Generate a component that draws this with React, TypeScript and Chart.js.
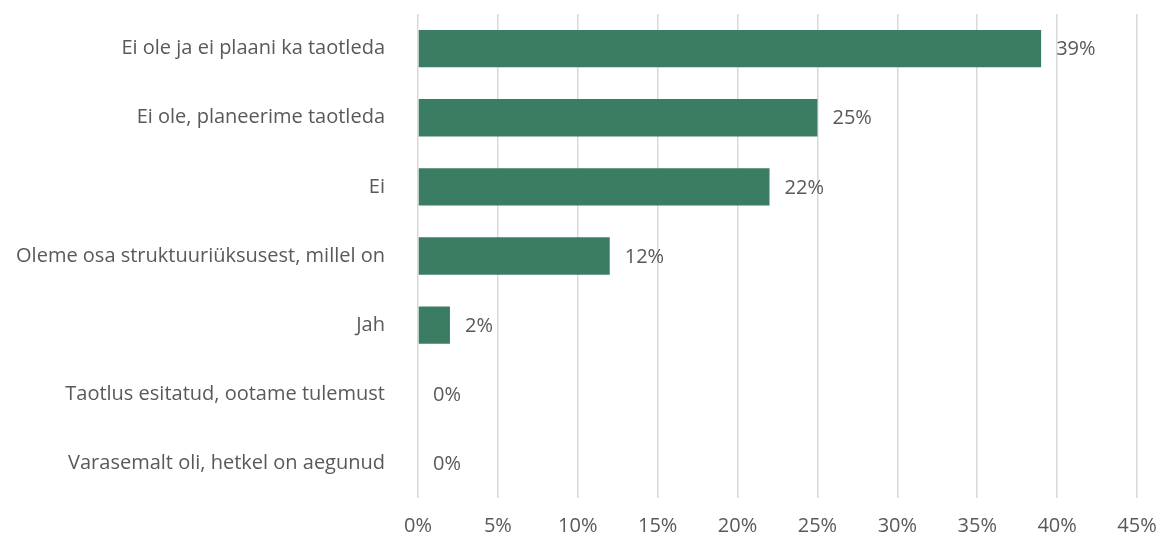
import React, { useEffect, useRef } from "react";
import { Chart, registerables } from "chart.js";

Chart.register(...registerables);

const categories = [
  "Ei ole ja ei plaani ka taotleda",
  "Ei ole, planeerime taotleda",
  "Ei",
  "Oleme osa struktuuriüksusest, millel on",
  "Jah",
  "Taotlus esitatud, ootame tulemust",
  "Varasemalt oli, hetkel on aegunud",
];
const values = [39, 25, 22, 12, 2, 0, 0];
const tickStep = 5;
const axisMax = 45;

const FONT = "'Open Sans', sans-serif";
const TEXT = "#595959";
const SIZE = 20;

const labelPlugin = {
  id: "barLabels",
  afterDatasetsDraw(chart: any) {
    const ctx = chart.ctx;
    const meta = chart.getDatasetMeta(0);
    ctx.save();
    ctx.font = `${SIZE}px ${FONT}`;
    ctx.fillStyle = TEXT;
    ctx.textAlign = "left";
    ctx.textBaseline = "middle";
    meta.data.forEach((bar: any, i: number) => {
      ctx.fillText(values[i] + "%", bar.x + 15, bar.y + 1);
    });
    ctx.restore();
  },
};

export default function App() {
  const ref = useRef<HTMLCanvasElement>(null);
  useEffect(() => {
    document.body.style.margin = "0";
    const chart = new Chart(ref.current!, {
      type: "bar",
      data: {
        labels: categories,
        datasets: [
          {
            data: values,
            backgroundColor: "#3b7d63",
            barPercentage: 0.54,
            categoryPercentage: 1,
          },
        ],
      },
      options: {
        indexAxis: "y",
        animation: false,
        responsive: false,
        layout: { autoPadding: false, padding: { left: 0, right: 23, top: 14, bottom: 0 } },
        plugins: { legend: { display: false }, tooltip: { enabled: false } },
        scales: {
          x: {
            min: 0,
            max: axisMax,
            ticks: {
              stepSize: tickStep,
              callback: (v: any) => v + "%",
              color: TEXT,
              font: { family: FONT, size: SIZE },
              padding: 16,
              maxRotation: 0,
            },
            grid: { color: "#d9d9d9", lineWidth: 1.5, drawTicks: false },
            border: { display: false },
            afterFit: (s: any) => {
              s.height = 40;
              s.paddingLeft = 0;
              s.paddingRight = 0;
            },
          },
          y: {
            ticks: {
              color: TEXT,
              font: { family: FONT, size: SIZE },
              padding: 25,
            },
            grid: { display: false },
            border: { display: false },
            afterFit: (s: any) => {
              s.width = 418;
              s.paddingTop = 0;
              s.paddingBottom = 0;
            },
          },
        },
      },
      plugins: [labelPlugin],
    });
    return () => chart.destroy();
  }, []);
  return (
    <div style={{ position: "fixed", left: 0, top: 0, width: 1160, height: 538, background: "#fff" }}>
      <canvas ref={ref} width={1160} height={538} />
    </div>
  );
}
